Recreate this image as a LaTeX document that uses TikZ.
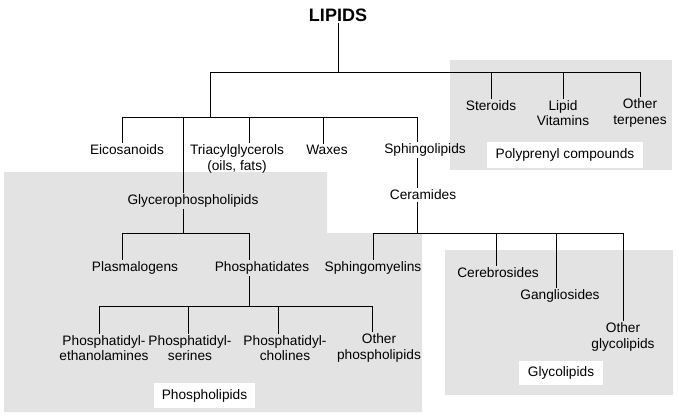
\documentclass[tikz,border=0pt]{standalone}
\usepackage{fontspec}
\setmainfont{Liberation Sans}
\definecolor{groupgray}{HTML}{E3E3E3}
\tikzset{
  term/.style={align=center, inner sep=1pt, font=\fontsize{13.7}{15.5}\selectfont},
  grouplabel/.style={fill=white, inner sep=0pt, font=\fontsize{13.7}{15.5}\selectfont},
}
\begin{document}
\begin{tikzpicture}[x=1pt, y=-1pt, line width=1pt]
\useasboundingbox (0,0) rectangle (678,416);
% grey panels for the groups
\fill[groupgray] (450,60) rectangle (672,170);
\fill[groupgray] (4,172) -- (327,172) -- (327,233) -- (422,233) -- (422,412) -- (4,412) -- cycle;
\fill[groupgray] (445,250) rectangle (673,395);
% group names
\node[grouplabel, minimum width=156pt, minimum height=26pt] (polyprenyl) at (565,155) {Polyprenyl compounds};
\node[grouplabel, minimum width=101pt, minimum height=25pt] (phospholipids) at (204.5,395.5) {Phospholipids};
\node[grouplabel, minimum width=84pt, minimum height=24pt] (glycolipids) at (561,373) {Glycolipids};
% the classes
\node[font=\bfseries\fontsize{18}{20}\selectfont, inner sep=1pt] (lipids) at (338,15) {LIPIDS};
\node[term] (steroids) at (491,106) {Steroids};
\node[term] (vitamins) at (563,113) {Lipid\\Vitamins};
\node[term] (terpenes) at (640,113) {Other\\terpenes};
\node[term] (eicosanoids) at (127,150) {Eicosanoids};
\node[term] (triacyl) at (237,159) {Triacylglycerols\\(oils, fats)};
\node[term] (waxes) at (327,150) {Waxes};
\node[term] (sphingo) at (425,150) {Sphingolipids};
\node[term] (glycero) at (193,201) {Glycerophospholipids};
\node[term] (ceramides) at (423,195) {Ceramides};
\node[term] (plasmalogens) at (135,268) {Plasmalogens};
\node[term] (phosphatidates) at (262,268) {Phosphatidates};
\node[term] (sphingomyelins) at (373,268) {Sphingomyelins};
\node[term] (cerebrosides) at (498,273) {Cerebrosides};
\node[term] (gangliosides) at (560,296) {Gangliosides};
\node[term] (otherglyco) at (623,337) {Other\\glycolipids};
\node[term] (pe) at (104,348) {Phosphatidyl-\\ethanolamines};
\node[term] (ps) at (190,348) {Phosphatidyl-\\serines};
\node[term] (pc) at (285,348) {Phosphatidyl-\\cholines};
\node[term] (otherphospho) at (379,348) {Other\\phospholipids};
% junctions of the tree
\coordinate (bar1) at (210,72);
\coordinate (bar2) at (210,117);
\coordinate (bar3) at (183,233);
\coordinate (bar4) at (417,233);
\coordinate (bar5) at (249,306);
% from LIPIDS
\draw (lipids) -- (lipids |- bar1);
\draw (bar1) -- (bar2);
\draw (bar1) -| (steroids);
\draw (bar1) -| (vitamins);
\draw (bar1) -| (terpenes);
% second row
\draw (bar2) -| ([xshift=-5pt]eicosanoids.north);
\draw (bar2) -| ([xshift=-10pt]glycero.north);
\draw (bar2) -| ([xshift=12pt]triacyl.north);
\draw (bar2) -| ([xshift=-4pt]waxes.north);
\draw (bar2) -| ([xshift=-8pt]sphingo.north);
% glycerophospholipids
\draw ([xshift=-10pt]glycero.south) -- (bar3);
\draw (bar3) -| ([xshift=-13pt]plasmalogens.north);
\draw (bar3) -| ([xshift=-13pt]phosphatidates.north);
\draw ([xshift=-13pt]phosphatidates.south) -- (bar5);
\draw (bar5) -| ([xshift=-5pt]pe.north);
\draw (bar5) -| ([xshift=-2pt]ps.north);
\draw (bar5) -| ([xshift=-7pt]pc.north);
\draw (bar5) -| ([xshift=-7pt]otherphospho.north);
% sphingolipids
\draw ([xshift=-8pt]sphingo.south) -- ([xshift=-6pt]ceramides.north);
\draw ([xshift=-6pt]ceramides.south) -- (bar4);
\draw (bar4) -| (sphingomyelins);
\draw (bar4) -| ([xshift=-2pt]cerebrosides.north);
\draw (bar4) -| ([xshift=-4pt]gangliosides.north);
\draw (bar4) -| (otherglyco);
\end{tikzpicture}
\end{document}
